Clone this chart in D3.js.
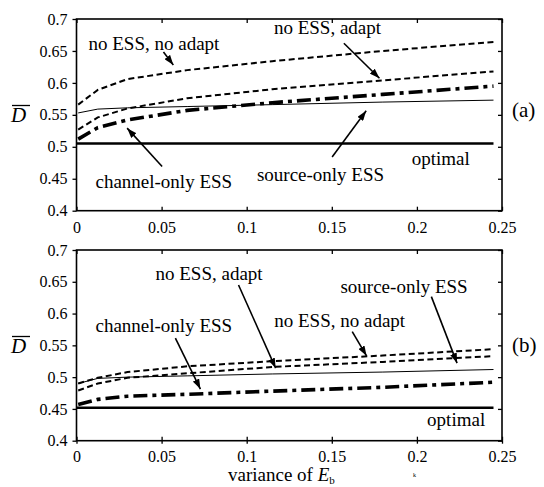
<!DOCTYPE html>
<html><head><meta charset="utf-8">
<script src="https://cdn.jsdelivr.net/npm/d3@7"></script>
</head>
<body style="margin:0;background:#fff">
<svg id="c" width="544" height="487"></svg>
<script>
// ---- data ----
const xs = [0.001, 0.0125, 0.03, 0.065, 0.115, 0.18, 0.245];
const noAdaptA = [0.566, 0.589, 0.606, 0.620, 0.634, 0.650, 0.664];
const adaptA   = [0.527, 0.546, 0.560, 0.576, 0.590, 0.604, 0.618];
const sourceA  = [0.553, 0.559, 0.561, 0.563, 0.566, 0.570, 0.573];
const channelA = [0.512, 0.530, 0.542, 0.557, 0.569, 0.582, 0.595];
const optimalA = 0.505;
const noAdaptB = [0.490, 0.499, 0.508, 0.517, 0.525, 0.534, 0.544];
const adaptB   = [0.479, 0.490, 0.499, 0.506, 0.516, 0.524, 0.533];
const sourceB  = [0.490, 0.498, 0.500, 0.502, 0.505, 0.508, 0.512];
const channelB = [0.457, 0.465, 0.470, 0.473, 0.478, 0.484, 0.492];
const optimalB = 0.452;
const optimalX = [0, 0.245];
const xTicks = [0, 0.05, 0.1, 0.15, 0.2, 0.25];
const xTickLabels = ["0", "0.05", "0.1", "0.15", "0.2", "0.25"];
const yTicks = [0.4, 0.45, 0.5, 0.55, 0.6, 0.65, 0.7];
const yTickLabels = ["0.4", "0.45", "0.5", "0.55", "0.6", "0.65", "0.7"];
// annotations (data units): [text, x, y]
const labelsA = [["no ESS, no adapt", 0.00704, 0.6516], ["no ESS, adapt", 0.116, 0.6773],
  ["channel-only ESS", 0.01115, 0.436], ["source-only ESS", 0.106, 0.4469], ["optimal", 0.197, 0.4719]];
const arrowsA = [[0.0511, 0.6484, 0.0569, 0.6281], [0.1571, 0.662, 0.178, 0.6073],
  [0.0503, 0.4692, 0.02975, 0.5292], [0.1502, 0.4839, 0.1702, 0.5563]];
const labelsB = [["no ESS, adapt", 0.0464, 0.6529], ["channel-only ESS", 0.01115, 0.5717],
  ["no ESS, no adapt", 0.1162, 0.5795], ["source-only ESS", 0.1551, 0.632], ["optimal", 0.206, 0.4225]];
const arrowsB = [[0.0952, 0.645, 0.117, 0.5142], [0.0581, 0.5613, 0.0728, 0.4812],
  [0.162, 0.5717, 0.1704, 0.5335], [0.2085, 0.6267, 0.2236, 0.522]];

// ---- force font load ----
const FONT = '"Liberation Serif"';
const ctx = document.createElement("canvas").getContext("2d");
["16px", "19px", "21px", "italic 19px", "italic 21px", "11px", "6px"].forEach(f => {
  ctx.font = f + " " + FONT + ", monospace"; ctx.measureText("no ESS, no adapt 0.65 variance");
});

// ---- drawing ----
const svg = d3.select("#c");
const T = (sel) => sel.style("font-family", FONT);
svg.append("defs").append("marker").attr("id", "ah")
  .attr("viewBox", "0 0 10 7").attr("refX", 10).attr("refY", 3.5)
  .attr("markerWidth", 10).attr("markerHeight", 7).attr("markerUnits", "userSpaceOnUse")
  .attr("orient", "auto").append("path").attr("d", "M0,0L10,3.5L0,7Z").attr("fill", "#000");

function panel(top, bottom, series, opt, labels, arrows, tag, tagY, dY, crossBottom) {
  const x = d3.scaleLinear().domain([0, 0.25]).range([76.5, 502]);
  const y = d3.scaleLinear().domain([0.4, 0.7]).range([bottom, top]);
  const g = svg.append("g");
  const fmtY = d => yTickLabels[yTicks.indexOf(d)];
  const fmtX = d => xTickLabels[xTicks.indexOf(d)];
  const styleAxis = a => { a.attr("font-family", null).attr("font-size", null); a.select(".domain").remove();
    a.selectAll("line").attr("stroke", "#000").attr("stroke-width", 1.3);
    T(a.selectAll("text")).style("font-size", "16px").attr("fill", "#000"); };
  g.append("g").attr("transform", `translate(${x(0)},0)`)
    .call(d3.axisLeft(y).tickValues(yTicks).tickSize(4).tickPadding(5).tickFormat(fmtY)).call(styleAxis);
  g.append("g").attr("transform", `translate(${x(0.25)},0)`)
    .call(d3.axisRight(y).tickValues(yTicks).tickSize(-4).tickFormat("")).call(styleAxis);
  g.append("g").attr("transform", `translate(0,${top})`)
    .call(d3.axisTop(x).tickValues(xTicks).tickSize(-4).tickFormat("")).call(styleAxis);
  g.append("g").attr("transform", `translate(0,${bottom})`)
    .call(d3.axisBottom(x).tickValues(xTicks).tickSize(-4).tickPadding(crossBottom ? 10 : 11).tickFormat(fmtX)).call(styleAxis);
  if (crossBottom) g.append("g").attr("transform", `translate(0,${bottom})`)
    .call(d3.axisBottom(x).tickValues(xTicks).tickSize(3).tickFormat("")).call(styleAxis);
  g.append("rect").attr("x", x(0)).attr("y", top).attr("width", x(0.25) - x(0)).attr("height", bottom - top)
    .attr("fill", "none").attr("stroke", "#000").attr("stroke-width", 1.6);

  const line = d3.line().x((d, i) => x(xs[i])).y(d => y(d));
  const styles = [
    {w: 2, dash: "6,3.5"}, {w: 2, dash: "6,3.5"}, {w: 1, dash: null}, {w: 3.6, dash: "14,5,4,5"}];
  series.forEach((s, k) => {
    g.append("path").datum(s).attr("d", line).attr("fill", "none").attr("stroke", "#000")
      .attr("stroke-width", styles[k].w).attr("stroke-dasharray", styles[k].dash);
  });
  g.append("path").datum(optimalX).attr("d", d3.line().x(d => x(d)).y(() => y(opt)))
    .attr("fill", "none").attr("stroke", "#000").attr("stroke-width", 2.5);

  labels.forEach(l => T(g.append("text")).style("font-size", "19px").attr("x", x(l[1])).attr("y", y(l[2])).text(l[0]));
  arrows.forEach(a => g.append("line").attr("x1", x(a[0])).attr("y1", y(a[1])).attr("x2", x(a[2])).attr("y2", y(a[3]))
    .attr("stroke", "#000").attr("stroke-width", 1.6).attr("marker-end", "url(#ah)"));
  T(g.append("text")).style("font-size", "21px").attr("x", 512).attr("y", tagY).text(tag);
  T(g.append("text")).style("font-size", "21px").style("font-style", "italic").attr("x", 11).attr("y", dY).text("D");
  g.append("line").attr("x1", 12).attr("x2", 30).attr("y1", dY - 16.5).attr("y2", dY - 16.5).attr("stroke", "#000").attr("stroke-width", 1.3);
}
panel(19, 210.7, [noAdaptA, adaptA, sourceA, channelA], optimalA, labelsA, arrowsA, "(a)", 117, 122, false);
panel(250, 440.7, [noAdaptB, adaptB, sourceB, channelB], optimalB, labelsB, arrowsB, "(b)", 352, 353, true);

const xl = T(svg.append("text")).style("font-size", "19px").attr("x", 228).attr("y", 481);
xl.append("tspan").text("variance of ");
xl.append("tspan").style("font-style", "italic").text("E");
xl.append("tspan").attr("dy", 3).style("font-size", "11px").text("b");
T(svg.append("text")).style("font-size", "6px").attr("x", 413).attr("y", 477).text("k");
</script></body></html>
